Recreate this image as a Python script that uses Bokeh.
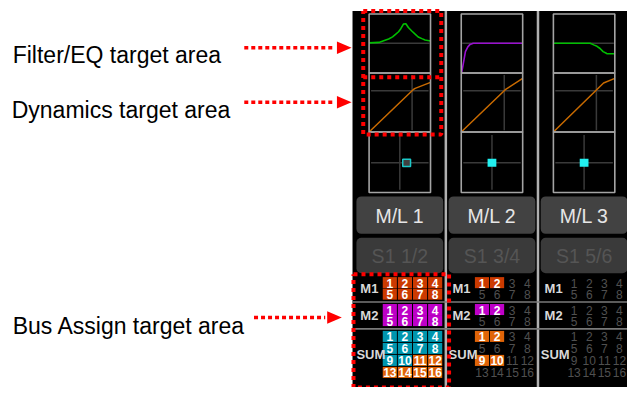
import math
from bokeh.plotting import figure
from bokeh.models import Range1d
from bokeh.embed import file_html
from bokeh.resources import INLINE
from bokeh.core.properties import value

# ---------------- data ----------------
annotation_labels = ["Filter/EQ target area", "Dynamics target area", "Bus Assign target area"]
channel_names = ["M/L 1", "M/L 2", "M/L 3"]
channel_pairs = ["S1 1/2", "S1 3/4", "S1 5/6"]

# EQ curves: frequency (Hz) and gain (dB)
eq_freq_ch1 = [20, 60, 130, 180, 280, 390, 550, 720, 950, 1250, 1650, 2500, 3550, 5000, 7600, 10800, 20000]
eq_gain_ch1 = [0.2, 0.5, 2.0, 2.6, 3.9, 5.4, 7.0, 9.0, 11.7, 11.9, 9.6, 7.3, 5.5, 3.8, 2.8, 2.0, 1.4]
eq_freq_ch2 = [20, 21, 24, 28, 32, 42, 54, 77, 20000]
eq_gain_ch2 = [-18, -17.9, -13.9, -9.2, -5.1, -2.2, -0.7, 0, 0]
eq_freq_ch3 = [20, 1260, 1860, 2700, 3800, 5360, 8100, 16200, 20000]
eq_gain_ch3 = [0, 0, -1.0, -1.9, -3.2, -5.1, -6.3, -6.4, -6.4]
eq_colors = ["#00c000", "#9a10d0", "#00c000"]

# Dynamics transfer curves: input dB -> output dB
dyn_in_ch1 = [-60, -17, -15, 0]
dyn_out_ch1 = [-60, -17, -15.6, -9.5]
dyn_in_ch2 = [-60, -17, 0]
dyn_out_ch2 = [-60, -17, -5.5]
dyn_in_ch3 = [-60, -11, 0]
dyn_out_ch3 = [-60, -10.2, -5.4]
dyn_grid_db = -18

# Pan position (-63 .. +63)
pan_pos = [14, 0, 0]
pan_hollow = [True, False, False]

# Bus assignments
m1_on = [[1, 2, 3, 4, 5, 6, 7, 8], [1, 2], []]
m2_on = [[1, 2, 3, 4, 5, 6, 7, 8], [1, 2], []]
sum_teal = [[1, 2, 3, 4, 5, 6, 7, 8, 9, 10], [], []]
sum_orange = [[11, 12, 13, 14, 15, 16], [1, 2, 9, 10], []]

# ---------------- figure ----------------
p = figure(width=627, height=387, x_range=Range1d(0, 643), y_range=Range1d(403, 0),
           output_backend="svg", toolbar_location=None, min_border=0)
p.axis.visible = False
p.grid.visible = False
p.outline_line_color = None
p.background_fill_color = "white"
p.border_fill_color = "white"

PITCH = 94.5
FRAME = "#a4a4a4"
DARK = "#3a3a3a"
FONT_UI = value("Liberation Sans")

# black panel
p.quad(left=361, right=660, top=11, bottom=420, fill_color="black", line_color=None)

eq_f = [eq_freq_ch1, eq_freq_ch2, eq_freq_ch3]
eq_g = [eq_gain_ch1, eq_gain_ch2, eq_gain_ch3]
dyn_i = [dyn_in_ch1, dyn_in_ch2, dyn_in_ch3]
dyn_o = [dyn_out_ch1, dyn_out_ch2, dyn_out_ch3]

EQ_TOP, EQ_BOT, EQ_ZERO, EQ_PXDB = 14, 75.5, 44.5, 1.71
DY_TOP, DY_BOT = 75.5, 137
PN_TOP, PN_BOT = 137, 200
W = 63

for i in range(3):
    x0 = 378 + i * PITCH
    # EQ zero line
    p.line([x0 + 1, x0 + W - 1], [EQ_ZERO, EQ_ZERO], line_color=DARK, line_width=1.5)
    # EQ curve
    xs = [x0 + W * math.log10(f / 20.0) / 3.0 for f in eq_f[i]]
    ys = [max(EQ_ZERO - g * EQ_PXDB, EQ_TOP) for g in eq_g[i]]
    ys = [min(y, EQ_BOT - 0.5) for y in ys]
    p.line(xs, ys, line_color=eq_colors[i], line_width=1.6)
    # dynamics grid
    gx = x0 + (dyn_grid_db + 60) / 60.0 * W
    gy = DY_BOT - (dyn_grid_db + 60) / 60.0 * (DY_BOT - DY_TOP)
    p.line([gx, gx], [DY_TOP + 2, DY_BOT - 2], line_color=DARK, line_width=1.5)
    p.line([x0 + 2, x0 + W - 2], [gy, gy], line_color=DARK, line_width=1.5)
    dx = [x0 + (v + 60) / 60.0 * W for v in dyn_i[i]]
    dy = [DY_BOT - (v + 60) / 60.0 * (DY_BOT - DY_TOP) for v in dyn_o[i]]
    p.line(dx, dy, line_color="#c86a00", line_width=1.5)
    # pan crosshair
    cx = x0 + W / 2.0
    cy = (PN_TOP + PN_BOT) / 2.0 + 0.5
    p.line([x0 + 2, x0 + W - 2], [cy, cy], line_color=DARK, line_width=1.5)
    p.line([cx, cx], [PN_TOP + 3, PN_BOT - 3], line_color=DARK, line_width=1.5)
    sx = cx + pan_pos[i] / 63.0 * (W / 2.0)
    if pan_hollow[i]:
        p.rect(x=sx, y=cy, width=8, height=7.5, fill_color="#404040", line_color="#1cc8c8", line_width=1.5)
    else:
        p.rect(x=sx, y=cy, width=9, height=8.5, fill_color="#22f0f0", line_color=None)
    # frames
    for (t, b) in [(EQ_TOP, EQ_BOT), (DY_TOP, DY_BOT), (PN_TOP, PN_BOT)]:
        p.quad(left=x0, right=x0 + W, top=t, bottom=b, fill_color=None, line_color=FRAME, line_width=1.6)

    # buttons
    bx0 = 365 + i * PITCH
    p.quad(left=bx0, right=bx0 + 89, top=204, bottom=243, fill_color="#424242", line_color=None, border_radius=5)
    p.quad(left=bx0, right=bx0 + 89, top=247, bottom=284, fill_color="#3a3a3a", line_color=None, border_radius=5)
    p.text(x=[bx0 + 44.5], y=[224], text=[channel_names[i]], text_color="#e6e6e6", text_font=FONT_UI,
           text_font_size="19.5px", text_align="center", text_baseline="middle")
    p.text(x=[bx0 + 44.5], y=[266], text=[channel_pairs[i]], text_color="#555555", text_font=FONT_UI,
           text_font_size="19.5px", text_align="center", text_baseline="middle")

# channel separators
for i in range(2):
    sxp = 456.7 + i * PITCH
    p.line([sxp, sxp], [11, 420], line_color="#b0b0b0", line_width=2.5)

# bus section separators
for yy in [314, 342]:
    p.line([361, 660], [yy, yy], line_color="#7a7a7a", line_width=1.6)

# bus cells
M1_COL, M2_COL, TEAL, ORANGE = "#cc3a00", "#be00c8", "#0096ae", "#e06408"
cell_x, cell_y, cell_c = [], [], []
num_x, num_y, num_t = [], [], []
off_x, off_y, off_t = [], [], []
rows_m1 = [293.8, 305.8]
rows_m2 = [321.8, 333.3]
rows_sum = [349.8, 362.3, 374.8, 387.3]
for i in range(3):
    base = 392 + i * PITCH
    groups = [(rows_m1, 8, lambda n, i=i: M1_COL if n in m1_on[i] else None),
              (rows_m2, 8, lambda n, i=i: M2_COL if n in m2_on[i] else None),
              (rows_sum, 16, lambda n, i=i: TEAL if n in sum_teal[i] else (ORANGE if n in sum_orange[i] else None))]
    for rows, count, colf in groups:
        for n in range(1, count + 1):
            r = (n - 1) // 4
            c = (n - 1) % 4
            xx = base + c * 15.5 + 7.25
            yy = rows[r]
            col = colf(n)
            if col:
                cell_x.append(xx); cell_y.append(yy); cell_c.append(col)
                num_x.append(xx); num_y.append(yy + 0.5); num_t.append(str(n))
            else:
                off_x.append(xx); off_y.append(yy + 0.5); off_t.append(str(n))
p.rect(x=cell_x, y=cell_y, width=14.5, height=11.5, fill_color=cell_c, line_color=None)
p.text(x=num_x, y=num_y, text=num_t, text_color="white", text_font=FONT_UI, text_font_size="12px",
       text_font_style="bold", text_align="center", text_baseline="middle")
p.text(x=off_x, y=off_y, text=off_t, text_color="#505050", text_font=FONT_UI, text_font_size="12px",
       text_align="center", text_baseline="middle")

bus_labels = ["M1", "M2", "SUM"]
bus_label_y = [300, 328, 369]
for i in range(3):
    lx = 369 + i * PITCH
    p.text(x=[lx, lx, lx - 4], y=bus_label_y, text=bus_labels, text_color="#d8d8d8", text_font=FONT_UI,
           text_font_size=value("13px"), text_font_style="bold", text_align="left", text_baseline="middle")

# red dashed target boxes
RED = "#ff0000"
p.multi_line(xs=[[372, 452, 452, 372, 372], [372, 452], [362, 460, 460, 362, 362]],
             ys=[[11, 11, 139.5, 139.5, 11], [80, 80], [285, 285, 403, 403, 285]],
             line_color=RED, line_width=4, line_dash="4 4")

# annotation texts and arrows
label_y = [56.5, 114, 339]
arrow_y = [49.3, 106, 330]
arrow_x0 = [250, 250, 260]
arrow_x1 = [343, 343, 333]
head_x = [345, 345, 335]
head_len = [15, 15, 15]
p.text(x=[12.5, 11.5, 12.5], y=label_y, text=annotation_labels, text_color="black",
       text_font=value("Liberation Sans"), text_font_size="23px", text_align="left", text_baseline="alphabetic")
for k in range(3):
    p.line([arrow_x0[k], arrow_x1[k]], [arrow_y[k], arrow_y[k]], line_color=RED, line_width=3.5, line_dash="4 3")
    p.patch([head_x[k], head_x[k] + head_len[k], head_x[k]],
            [arrow_y[k] - 6.5, arrow_y[k], arrow_y[k] + 6.5], fill_color=RED, line_color=None)

open("out.html", "w").write(file_html(p, INLINE))
